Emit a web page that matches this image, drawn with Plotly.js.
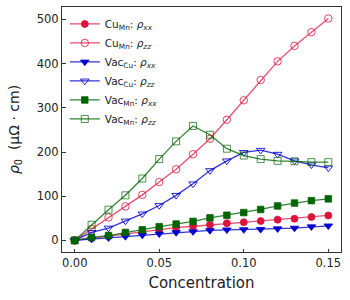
<!DOCTYPE html>
<html>
<head>
<meta charset="utf-8">
<script src="https://cdn.plot.ly/plotly-3.0.1.min.js"></script>
<style>html,body{margin:0;padding:0;background:#fff;}#chart{width:350px;height:300px;}</style>
</head>
<body>
<div id="chart"></div>
<script>
const conc = [0, 0.01, 0.02, 0.03, 0.04, 0.05, 0.06, 0.07, 0.08, 0.09, 0.10, 0.11, 0.12, 0.13, 0.14, 0.15];
const cuMnXX = [0, 5, 10, 14, 19, 25, 29, 32, 35.5, 39, 41, 44, 47, 49, 53, 56.5];
const cuMnZZ = [0, 26, 52, 77, 103, 132, 161, 195, 230, 273, 317, 363, 405, 440, 471, 502];
const vacCuXX = [0, 3, 6, 9, 12, 15, 18, 20, 22.5, 24, 24.5, 25, 26.5, 28, 31, 33];
const vacCuZZ = [0, 18, 28, 44, 60, 79, 102, 128, 158, 180, 199, 204, 195, 180, 171, 164];
const vacMnXX = [0, 7, 11, 18, 24, 31, 37, 43, 51, 57, 63, 70, 78, 84.5, 90, 94];
const vacMnZZ = [0, 35.5, 69.5, 102, 140, 184, 224, 259, 239, 207.5, 192, 184, 180, 179, 177, 177];
const names = ['Cu<sub>Mn</sub>: <i>ρ<sub>xx</sub></i>', 'Cu<sub>Mn</sub>: <i>ρ<sub>zz</sub></i>',
  'Vac<sub>Cu</sub>: <i>ρ<sub>xx</sub></i>', 'Vac<sub>Cu</sub>: <i>ρ<sub>zz</sub></i>',
  'Vac<sub>Mn</sub>: <i>ρ<sub>xx</sub></i>', 'Vac<sub>Mn</sub>: <i>ρ<sub>zz</sub></i>'];

const red = '#DC143C', blue = '#0000CD', green = '#006400';
function tr(y, name, col, lineCol, sym, size, open) {
  return {
    x: conc, y: y, name: name, type: 'scatter', mode: 'lines+markers',
    line: {color: lineCol, width: 1.3},
    marker: open ? {symbol: sym, size: size, color: col, line: {width: 1, color: col}}
                 : {symbol: sym, size: size, color: col, line: {width: 0.8, color: col}}
  };
}
const data = [
  tr(cuMnXX, names[0], red, 'rgba(220,20,60,0.75)', 'circle', 7, false),
  tr(cuMnZZ, names[1], 'rgba(220,20,60,0.8)', 'rgba(220,20,60,0.75)', 'circle-open', 7.5, true),
  tr(vacCuXX, names[2], blue, 'rgba(0,0,205,0.8)', 'triangle-down', 7.5, false),
  tr(vacCuZZ, names[3], 'rgba(0,0,205,0.85)', 'rgba(0,0,205,0.8)', 'triangle-down-open', 7.5, true),
  tr(vacMnXX, names[4], green, 'rgba(0,100,0,0.8)', 'square', 6.5, false),
  tr(vacMnZZ, names[5], 'rgba(0,100,0,0.7)', 'rgba(0,100,0,0.8)', 'square-open', 7, true)
];
const layout = {
  width: 350, height: 300,
  margin: {l: 62, r: 9, t: 7, b: 48},
  paper_bgcolor: '#fff', plot_bgcolor: '#fff',
  font: {family: 'DejaVu Sans', size: 11.5, color: '#222'},
  showlegend: true,
  legend: {x: 0.01, y: 0.99, xanchor: 'left', yanchor: 'top', bgcolor: 'rgba(0,0,0,0)',
           font: {family: 'DejaVu Sans', size: 10.5, color: '#222'}, tracegroupgap: 0},
  xaxis: {
    range: [-0.0075, 0.1575], tickvals: [0, 0.05, 0.10, 0.15], tickformat: '.2f',
    ticks: 'inside', ticklen: 3.5, tickwidth: 1, tickcolor: '#333',
    showline: true, linecolor: '#333', linewidth: 1, mirror: true,
    showgrid: false, zeroline: false,
    title: {text: 'Concentration', font: {family: 'DejaVu Sans', size: 15, color: '#222'}, standoff: 8}
  },
  yaxis: {
    range: [-26.2, 528], tickvals: [0, 100, 200, 300, 400, 500],
    ticks: 'inside', ticklen: 3.5, tickwidth: 1, tickcolor: '#333',
    showline: true, linecolor: '#333', linewidth: 1, mirror: true,
    showgrid: false, zeroline: false,
    title: {text: '<i>ρ</i><sub>0</sub>  (μΩ · cm)', font: {family: 'DejaVu Sans', size: 14, color: '#222'}, standoff: 13}
  }
};
Plotly.newPlot('chart', data, layout, {displayModeBar: false, staticPlot: true});
</script>
</body>
</html>
